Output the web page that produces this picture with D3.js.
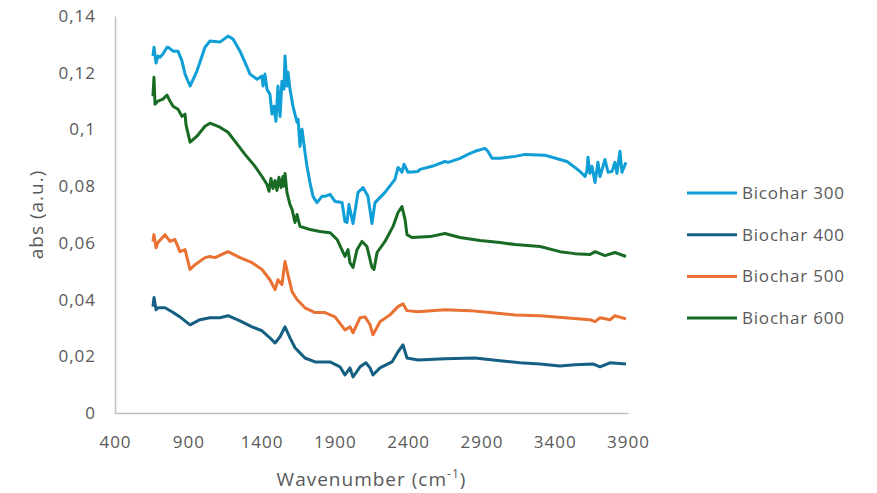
<!DOCTYPE html>
<html>
<head>
<meta charset="utf-8">
<script src="https://cdn.jsdelivr.net/npm/d3@7"></script>
<style>
  body { margin: 0; background: #fff; }
  .tick text { fill: #595959; font-family: "Open Sans", sans-serif; font-size: 17px; letter-spacing: 1px; }
  .axis path { stroke: #bfbfbf; stroke-width: 1.5px; }
  .axis line { display: none; }
  .title { fill: #595959; font-family: "Open Sans", sans-serif; font-size: 19px; letter-spacing: 1px; }
  .legend text { fill: #595959; font-family: "Open Sans", sans-serif; font-size: 17px; letter-spacing: 0.8px; }
</style>
</head>
<body>
<div id="chart"></div>
<script>
// wavenumber (cm-1), absorbance pairs
let bio300 = [
    [659,0.1259],[666,0.1290],[680,0.1234],[693,0.1259],[707,0.1255],[727,0.1266],[755,0.1290],[762,0.1290],
    [796,0.1276],[830,0.1276],[857,0.1241],[878,0.1195],[912,0.1153],[959,0.1206],[1014,0.1290],[1048,0.1312],
    [1116,0.1308],[1171,0.1329],[1205,0.1319],[1253,0.1276],[1301,0.1220],[1321,0.1195],[1369,0.1177],[1403,0.1188],
    [1410,0.1153],[1423,0.1195],[1437,0.1142],[1457,0.1124],[1471,0.1054],[1485,0.1082],[1498,0.1029],[1512,0.1153],
    [1526,0.1046],[1539,0.1170],[1553,0.1142],[1560,0.1259],[1573,0.1153],[1580,0.1202],[1594,0.1142],[1614,0.1082],
    [1642,0.1025],[1649,0.1036],[1662,0.0940],[1676,0.1001],[1696,0.0919],[1710,0.0870],[1730,0.0813],[1751,0.0764],
    [1778,0.0742],[1812,0.0764],[1833,0.0764],[1867,0.0771],[1901,0.0746],[1949,0.0742],[1969,0.0675],
    [1983,0.0672],[1996,0.0735],[2003,0.0718],[2024,0.0668],[2058,0.0778],[2092,0.0795],[2126,0.0764],[2153,0.0668],
    [2174,0.0742],[2242,0.0778],[2310,0.0824],[2331,0.0866],[2344,0.0859],[2358,0.0849],[2372,0.0877],[2399,0.0849],
    [2467,0.0852],[2481,0.0859],[2563,0.0870],[2651,0.0887],[2672,0.0884],[2754,0.0898],[2808,0.0912],[2856,0.0923],
    [2924,0.0933],[2944,0.0923],[2972,0.0898],[3027,0.0898],[3129,0.0905],[3197,0.0912],[3334,0.0909],[3436,0.0894],
    [3484,0.0887],[3538,0.0866],[3572,0.0852],[3607,0.0834],[3620,0.0855],[3627,0.0902],[3640,0.0845],[3654,0.0870],
    [3675,0.0813],[3695,0.0884],[3709,0.0834],[3743,0.0894],[3764,0.0849],[3791,0.0852],[3811,0.0884],[3825,0.0845],
    [3845,0.0923],[3859,0.0849],[3886,0.0884]
];

let bio400 = [
    [659,0.0375],[666,0.0407],[680,0.0364],[693,0.0371],[741,0.0371],[789,0.0357],[843,0.0339],[912,0.0311],
    [980,0.0329],[1048,0.0336],[1116,0.0336],[1171,0.0343],[1253,0.0325],[1335,0.0304],[1403,0.0290],[1457,0.0265],
    [1492,0.0247],[1526,0.0269],[1560,0.0304],[1594,0.0265],[1628,0.0230],[1662,0.0212],[1696,0.0194],[1765,0.0180],
    [1867,0.0180],[1935,0.0163],[1969,0.0134],[2003,0.0159],[2024,0.0127],[2072,0.0163],[2112,0.0177],[2140,0.0159],
    [2160,0.0134],[2208,0.0159],[2290,0.0180],[2331,0.0216],[2365,0.0240],[2392,0.0194],[2467,0.0187],[2651,0.0191],
    [2856,0.0194],[3027,0.0184],[3163,0.0177],[3300,0.0173],[3436,0.0166],[3538,0.0170],[3661,0.0173],[3709,0.0163],
    [3777,0.0177],[3886,0.0173]
];

let bio500 = [
    [659,0.0605],[666,0.0629],[680,0.0583],[693,0.0601],[741,0.0629],[775,0.0605],[809,0.0612],[843,0.0569],
    [878,0.0576],[912,0.0506],[946,0.0523],[1014,0.0548],[1048,0.0552],[1082,0.0548],[1171,0.0569],[1253,0.0548],
    [1335,0.0530],[1403,0.0506],[1457,0.0470],[1492,0.0435],[1512,0.0470],[1539,0.0453],[1560,0.0534],[1580,0.0488],
    [1608,0.0428],[1642,0.0400],[1696,0.0371],[1765,0.0354],[1833,0.0354],[1901,0.0339],[1969,0.0293],[2003,0.0304],
    [2024,0.0283],[2072,0.0336],[2106,0.0339],[2140,0.0311],[2160,0.0276],[2208,0.0322],[2276,0.0346],[2331,0.0375],
    [2365,0.0385],[2392,0.0361],[2467,0.0357],[2651,0.0364],[2822,0.0361],[2958,0.0354],[3129,0.0346],[3300,0.0343],
    [3470,0.0336],[3641,0.0329],[3675,0.0322],[3709,0.0336],[3777,0.0329],[3811,0.0343],[3886,0.0332]
];

let bio600 = [
    [659,0.1117],[666,0.1184],[673,0.1089],[693,0.1100],[727,0.1107],[755,0.1121],[775,0.1100],[796,0.1082],
    [830,0.1071],[857,0.1046],[878,0.1054],[884,0.1018],[912,0.0955],[959,0.0976],[1014,0.1011],[1048,0.1022],
    [1116,0.1008],[1171,0.0990],[1219,0.0958],[1287,0.0912],[1355,0.0870],[1403,0.0834],[1437,0.0806],[1451,0.0782],
    [1464,0.0827],[1478,0.0792],[1492,0.0820],[1505,0.0785],[1519,0.0831],[1533,0.0795],[1546,0.0834],[1553,0.0800],
    [1560,0.0845],[1573,0.0778],[1594,0.0735],[1608,0.0718],
    [1628,0.0672],[1642,0.0700],[1662,0.0658],[1730,0.0647],[1799,0.0640],[1867,0.0636],[1915,0.0612],[1969,0.0552],
    [1990,0.0576],[2003,0.0530],[2024,0.0513],[2051,0.0576],[2085,0.0605],[2119,0.0587],[2153,0.0513],[2167,0.0506],
    [2188,0.0566],[2242,0.0605],[2297,0.0658],[2331,0.0707],[2358,0.0728],[2379,0.0682],[2392,0.0629],[2426,0.0619],
    [2549,0.0622],[2651,0.0633],[2754,0.0619],[2890,0.0608],[3027,0.0601],[3129,0.0594],[3300,0.0587],[3436,0.0569],
    [3538,0.0562],[3641,0.0559],[3675,0.0569],[3743,0.0555],[3811,0.0566],[3886,0.0552]
];

let seriesNames = ["Bicohar 300", "Biochar 400", "Biochar 500", "Biochar 600"];
let seriesColors = ["#0F9ED5", "#156082", "#E97132", "#196B24"];
let xTicks = [400, 900, 1400, 1900, 2400, 2900, 3400, 3900];
let yTicks = [0, 0.02, 0.04, 0.06, 0.08, 0.1, 0.12, 0.14];

let allSeries = [bio300, bio400, bio500, bio600];

let margin = {top: 16, right: 249, bottom: 80, left: 115};
let width = 877 - margin.left - margin.right;
let height = 493 - margin.top - margin.bottom;

let svg = d3.select("#chart").append("svg")
    .attr("width", 877)
    .attr("height", 493)
    .append("g")
    .attr("transform", `translate(${margin.left}, ${margin.top})`);

let x = d3.scaleLinear().domain([400, 3900]).range([0, width]);
let y = d3.scaleLinear().domain([0, 0.14]).range([height, 0]);

let fmt = d => String(+d.toFixed(2)).replace(".", ",");

// axes
svg.append("g")
    .attr("class", "axis x-axis")
    .attr("transform", `translate(0, ${height})`)
    .call(d3.axisBottom(x).tickValues(xTicks).tickSize(0).tickSizeOuter(0).tickPadding(23).tickFormat(d3.format("d")));

svg.append("g")
    .attr("class", "axis y-axis")
    .call(d3.axisLeft(y).tickValues(yTicks).tickSize(0).tickSizeOuter(0).tickPadding(19).tickFormat(fmt));

// lines
let line = d3.line()
    .x(d => x(d[0]))
    .y(d => y(d[1]));

svg.selectAll(".series")
    .data(allSeries)
    .enter()
    .append("path")
    .attr("class", "series")
    .attr("fill", "none")
    .attr("stroke", (d, i) => seriesColors[i])
    .attr("stroke-width", 3)
    .attr("stroke-linejoin", "round")
    .attr("d", line);

// axis titles
svg.append("text")
    .attr("class", "title")
    .attr("x", width / 2)
    .attr("y", height + 73)
    .attr("text-anchor", "middle")
    .html('Wavenumber (cm<tspan dy="-8" font-size="12px">-1</tspan><tspan dy="8">)</tspan>');

svg.append("text")
    .attr("class", "title")
    .attr("transform", `translate(${-72}, ${height / 2}) rotate(-90)`)
    .attr("text-anchor", "middle")
    .text("abs (a.u.)");

// legend
let legend = svg.append("g")
    .attr("class", "legend")
    .attr("transform", `translate(${687 - margin.left}, ${193 - margin.top})`);

let item = legend.selectAll("g")
    .data(seriesNames)
    .enter()
    .append("g")
    .attr("transform", (d, i) => `translate(0, ${i * 41.7})`);

item.append("line")
    .attr("x1", 0).attr("x2", 50)
    .attr("stroke", (d, i) => seriesColors[i])
    .attr("stroke-width", 3);

item.append("text")
    .attr("x", 55)
    .attr("dy", "0.35em")
    .text(d => d);
</script>
</body>
</html>
